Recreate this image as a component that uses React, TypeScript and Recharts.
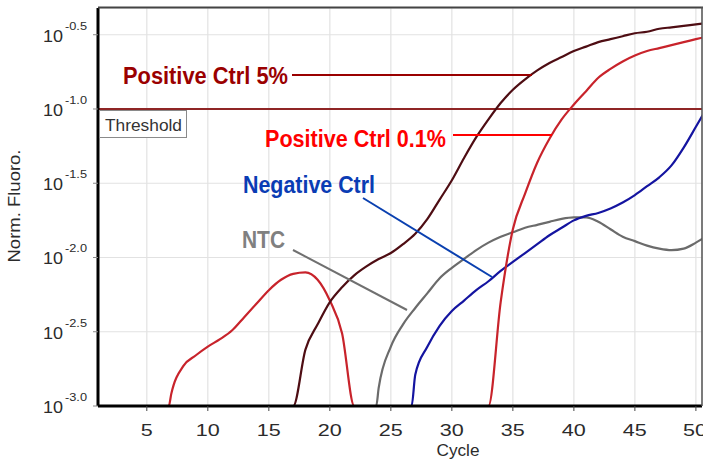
import { CartesianGrid, Line, LineChart, ReferenceLine, XAxis, YAxis } from "recharts";

// each trace: cycle numbers + log10(Norm. Fluoro.), floor at -3.0
const pos5Cycles = [
  1, 17, 18, 19, 20, 21, 22, 23, 24, 25, 26, 27, 28, 29, 30, 31, 32, 33, 34, 35, 36, 37, 38,
  39, 40, 41, 42, 43, 44, 45, 46, 47, 48, 49, 50, 51,
];
const pos5Values = [
  -3, -3, -2.62, -2.45, -2.3, -2.2, -2.12, -2.06, -2.01, -1.97, -1.91, -1.84, -1.74, -1.61,
  -1.48, -1.33, -1.19, -1.07, -0.96, -0.87, -0.8, -0.74, -0.69, -0.65, -0.61, -0.58, -0.55,
  -0.53, -0.51, -0.49, -0.48, -0.46, -0.45, -0.44, -0.43, -0.42,
];

const pos01Cycles = [
  1, 6.8, 7, 8, 9, 10, 11, 12, 13, 14, 15, 16, 17, 18, 19, 20, 21, 22, 33, 34, 35, 36, 37, 38,
  39, 40, 41, 42, 43, 44, 45, 46, 47, 48, 49, 50, 51,
];
const pos01Values = [
  -3, -3, -2.92, -2.73, -2.66, -2.6, -2.55, -2.49, -2.4, -2.31, -2.22, -2.15, -2.11, -2.1,
  -2.15, -2.29, -2.51, -3, -3, -2.3, -1.81, -1.57, -1.36, -1.2, -1.07, -0.97, -0.88, -0.79,
  -0.73, -0.68, -0.64, -0.61, -0.59, -0.57, -0.55, -0.53, -0.51,
];

const negCycles = [
  1, 26.7, 27, 28, 29, 30, 31, 32, 33, 34, 35, 36, 37, 38, 39, 40, 41, 42, 43, 44, 45, 46, 47,
  48, 49, 50, 51,
];
const negValues = [
  -3, -3, -2.79, -2.6, -2.46, -2.36, -2.29, -2.22, -2.16, -2.09, -2.03, -1.97, -1.91, -1.85,
  -1.8, -1.75, -1.72, -1.7, -1.67, -1.63, -1.58, -1.52, -1.46, -1.38, -1.26, -1.12, -0.98,
];

const ntcCycles = [
  1, 23.8, 24, 25, 26, 27, 28, 29, 30, 31, 32, 33, 34, 35, 36, 37, 38, 39, 40, 41, 42, 43, 44,
  45, 46, 47, 48, 49, 50, 51,
];
const ntcValues = [
  -3, -3, -2.88, -2.6, -2.45, -2.34, -2.24, -2.14, -2.07, -2.01, -1.95, -1.9, -1.86, -1.83,
  -1.8, -1.78, -1.76, -1.74, -1.73, -1.73, -1.76, -1.81, -1.86, -1.89, -1.92, -1.94, -1.95,
  -1.94, -1.9, -1.85,
];

const xTicks = [5, 10, 15, 20, 25, 30, 35, 40, 45, 50];
const yTicks = [-3, -2.5, -2, -1.5, -1, -0.5];
const threshold = -1;

const toPoints = (cycles: number[], values: number[]) =>
  cycles.map((cycle, i) => ({ cycle, value: values[i] }));

const FONT = "'Liberation Sans', Arial, sans-serif";
const NARROW = "'Liberation Sans Narrow', 'Liberation Sans', Arial, sans-serif";

function YTick({ y, payload }: any) {
  return (
    <g fontFamily={FONT} fill="#2b2b2b">
      <text x={63} y={y + 7} textAnchor="end" fontSize={17} textLength={20} lengthAdjust="spacingAndGlyphs">
        10
      </text>
      <text x={65} y={y - 5} fontSize={11} textLength={22} lengthAdjust="spacingAndGlyphs">
        {payload.value.toFixed(1)}
      </text>
    </g>
  );
}

function XTick({ x, payload }: any) {
  const label = String(payload.value);
  return (
    <text
      x={x}
      y={436}
      textAnchor="middle"
      fontFamily={FONT}
      fontSize={17}
      fill="#2b2b2b"
      textLength={label.length * 12}
      lengthAdjust="spacingAndGlyphs"
    >
      {label}
    </text>
  );
}

export default function App() {
  return (
    <div style={{ position: "absolute", left: 0, top: 0, width: 703, height: 460, background: "#fff" }}>
      <LineChart width={703} height={460} margin={{ top: 8, right: 1, bottom: 0, left: 0 }}>
        <CartesianGrid stroke="#e2e2e2" strokeWidth={1.2} />
        <XAxis
          dataKey="cycle"
          type="number"
          domain={[1, 50.5]}
          ticks={xTicks}
          allowDataOverflow
          height={54}
          axisLine={{ stroke: "#000", strokeWidth: 3 }}
          tickLine={{ stroke: "#444" }}
          tickSize={5}
          tick={<XTick />}
        />
        <YAxis
          type="number"
          domain={[-3, -0.32]}
          ticks={yTicks}
          allowDataOverflow
          width={98}
          axisLine={{ stroke: "#000", strokeWidth: 3 }}
          tickLine={{ stroke: "#888" }}
          tickSize={5}
          tick={<YTick />}
        />
        <ReferenceLine y={threshold} stroke="#8f2525" strokeWidth={2} />
        <Line data={toPoints(ntcCycles, ntcValues)} type="monotone" dataKey="value" stroke="#6b6b6b" strokeWidth={2.2} dot={false} isAnimationActive={false} />
        <Line data={toPoints(negCycles, negValues)} type="monotone" dataKey="value" stroke="#1414a0" strokeWidth={2.2} dot={false} isAnimationActive={false} />
        <Line data={toPoints(pos01Cycles, pos01Values)} type="monotone" dataKey="value" stroke="#c8232b" strokeWidth={2.2} dot={false} isAnimationActive={false} />
        <Line data={toPoints(pos5Cycles, pos5Values)} type="monotone" dataKey="value" stroke="#4e0d13" strokeWidth={2.2} dot={false} isAnimationActive={false} />
      </LineChart>

      <svg width={703} height={460} style={{ position: "absolute", left: 0, top: 0, pointerEvents: "none" }}>
        {/* plot frame top / right */}
        <line x1={98} y1={7.5} x2={703} y2={7.5} stroke="#444" strokeWidth={2} />
        <line x1={702} y1={7} x2={702} y2={406} stroke="#555" strokeWidth={1.5} />

        {/* threshold tag */}
        <rect x={99.5} y={110.5} width={87} height={27} fill="#fff" stroke="#8a8a8a" />
        <text x={105} y={131} fontFamily={FONT} fontSize={16} fill="#333" textLength={77} lengthAdjust="spacingAndGlyphs">
          Threshold
        </text>

        {/* axis titles */}
        <text x={458} y={456} textAnchor="middle" fontFamily={FONT} fontSize={16} fill="#2b2b2b" textLength={43} lengthAdjust="spacingAndGlyphs">
          Cycle
        </text>
        <text
          transform="translate(20,206) rotate(-90)"
          textAnchor="middle"
          fontFamily={FONT}
          fontSize={16}
          fill="#2b2b2b"
          textLength={113}
          lengthAdjust="spacingAndGlyphs"
        >
          Norm. Fluoro.
        </text>

        {/* callouts */}
        <text x={123} y={84} fontFamily={NARROW} fontWeight="bold" fontSize={23} fill="#9a0000" textLength={165} lengthAdjust="spacingAndGlyphs">
          Positive Ctrl 5%
        </text>
        <line x1={292} y1={75} x2={532} y2={75} stroke="#9a0000" strokeWidth={2} />

        <text x={265} y={147} fontFamily={NARROW} fontWeight="bold" fontSize={23} fill="#ff0000" textLength={181} lengthAdjust="spacingAndGlyphs">
          Positive Ctrl 0.1%
        </text>
        <line x1={453} y1={135} x2={552} y2={135} stroke="#ff0000" strokeWidth={2} />

        <text x={243} y={193} fontFamily={NARROW} fontWeight="bold" fontSize={23} fill="#0a3cb4" textLength={132} lengthAdjust="spacingAndGlyphs">
          Negative Ctrl
        </text>
        <line x1={363} y1={198} x2={492} y2={277} stroke="#0a40b0" strokeWidth={2} />

        <text x={242} y={248} fontFamily={NARROW} fontWeight="bold" fontSize={23} fill="#808080" textLength={43} lengthAdjust="spacingAndGlyphs">
          NTC
        </text>
        <line x1={293} y1={250} x2={407} y2={310} stroke="#707070" strokeWidth={2} />
      </svg>
    </div>
  );
}
